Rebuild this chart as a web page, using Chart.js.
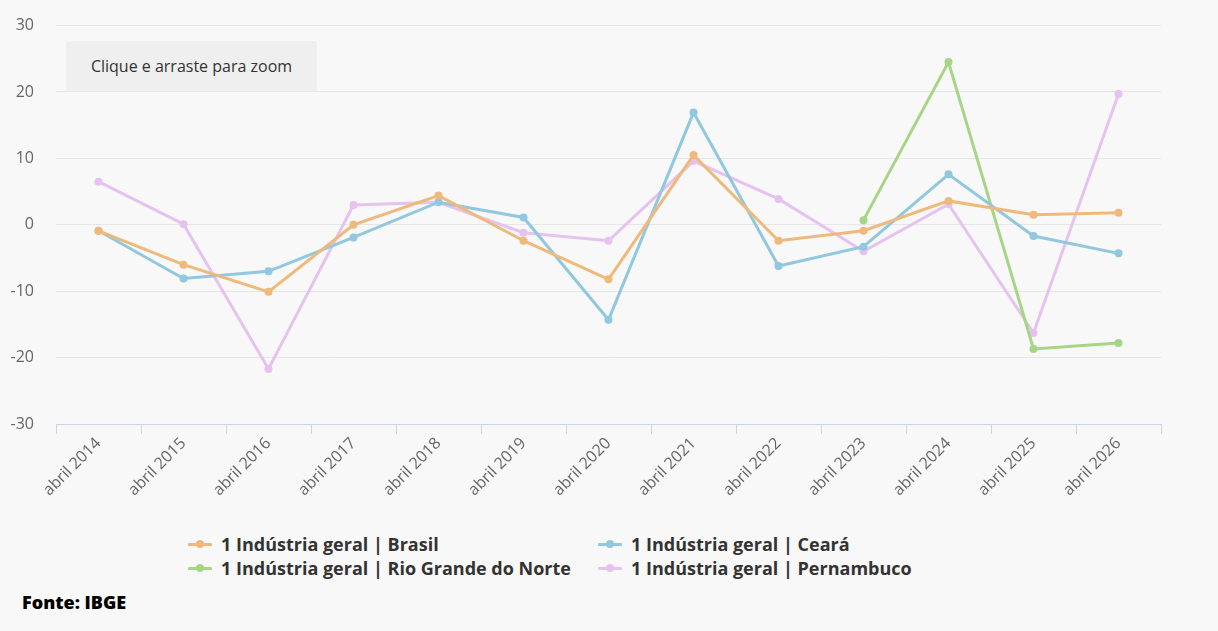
<!DOCTYPE html>
<html>
<head>
<meta charset="utf-8">
<script src="https://cdn.jsdelivr.net/npm/chart.js@4"></script>
<style>
    body { margin: 0; background: #f8f8f8; font-family: "Open Sans", sans-serif; }
    #wrap { position: relative; width: 1218px; height: 631px; overflow: hidden; }
    #chart { position: absolute; left: 0; top: -6px; }
    #zoomBtn {
        position: absolute; left: 66px; top: 41px; width: 251px; height: 50px;
        background: #efefef; border-radius: 2px; color: #333; font-size: 16px;
        line-height: 50px; text-align: center;
    }
    #legend { position: absolute; left: 188px; top: 532px; }
    .item { position: absolute; white-space: nowrap; font-weight: bold; font-size: 18px; color: #333; line-height: 24px; }
    .mark { position: absolute; left: 0; top: 11px; width: 24px; height: 3px; border-radius: 1px; }
    .dot { position: absolute; left: 8px; top: -3px; width: 8px; height: 8px; border-radius: 50%; }
    .item span.txt { position: absolute; left: 33px; top: 0; }
    #source { position: absolute; left: 22px; top: 590px; font-size: 18px; font-weight: 800; color: #000; }
</style>
</head>
<body>
<div id="wrap">
    <canvas id="chart" width="1218" height="526"></canvas>
    <div id="zoomBtn">Clique e arraste para zoom</div>
    <div id="legend"></div>
    <div id="source">Fonte: IBGE</div>
</div>
<script>
const labels = ['abril 2014', 'abril 2015', 'abril 2016', 'abril 2017', 'abril 2018', 'abril 2019', 'abril 2020',
    'abril 2021', 'abril 2022', 'abril 2023', 'abril 2024', 'abril 2025', 'abril 2026'];

const brasil     = [-0.9, -6.0, -10.1, 0.0, 4.4, -2.4, -8.2, 10.5, -2.4, -0.9, 3.6, 1.5, 1.8];
const ceara      = [-0.9, -8.1, -7.0, -1.9, 3.4, 1.1, -14.3, 16.9, -6.2, -3.3, 7.6, -1.7, -4.3];
const rioGrande  = [null, null, null, null, null, null, null, null, null, 0.7, 24.5, -18.7, -17.8];
const pernambuco = [6.5, 0.1, -21.7, 3.0, 3.4, -1.2, -2.4, 9.6, 3.9, -4.0, 3.1, -16.3, 19.7];

const yTicks = [-30, -20, -10, 0, 10, 20, 30];

function serie(label, data, color) {
    return {
        label: label,
        data: data,
        borderColor: color,
        backgroundColor: color,
        borderWidth: 3,
        pointRadius: 4,
        pointBorderWidth: 0,
        pointBackgroundColor: color,
        tension: 0,
        spanGaps: false
    };
}

const ctx = document.getElementById('chart').getContext('2d');

const chart = new Chart(ctx, {
    type: 'line',
    data: {
        labels: labels,
        datasets: [
            serie('1 Indústria geral | Brasil', brasil, '#efb97c'),
            serie('1 Indústria geral | Ceará', ceara, '#91c8df'),
            serie('1 Indústria geral | Rio Grande do Norte', rioGrande, '#a6d685'),
            serie('1 Indústria geral | Pernambuco', pernambuco, '#e6c2ef')
        ]
    },
    options: {
        responsive: false,
        animation: false,
        layout: { padding: { top: 19, right: 57, left: 0, bottom: 0 } },
        plugins: {
            legend: { display: false },
            tooltip: { enabled: false }
        },
        scales: {
            y: {
                min: -30,
                max: 30,
                afterFit: s => { s.width = 56; },
                afterBuildTicks: s => { s.ticks = yTicks.map(v => ({ value: v })); },
                border: { display: false },
                grid: {
                    color: c => c.tick && c.tick.value === -30 ? 'rgba(0,0,0,0)' : '#e6e6e6',
                    drawTicks: false
                },
                ticks: {
                    padding: 22,
                    color: '#666',
                    font: { family: 'Open Sans', size: 16 }
                }
            },
            x: {
                offset: true,
                afterFit: s => { s.height = 96; },
                border: { display: true, color: '#ccd6eb', width: 1 },
                grid: {
                    offset: true,
                    drawOnChartArea: false,
                    drawTicks: true,
                    tickLength: 10,
                    color: '#ccd6eb'
                },
                ticks: {
                    minRotation: 45,
                    maxRotation: 45,
                    autoSkip: false,
                    padding: 0,
                    color: '#666',
                    font: { family: 'Open Sans', size: 16 }
                }
            }
        }
    }
});

// legend in two columns, built from the datasets
const legendBox = document.getElementById('legend');
const cols = [0, 410];
chart.data.datasets.forEach((ds, i) => {
    const item = document.createElement('div');
    item.className = 'item';
    item.style.left = cols[i % 2] + 'px';
    item.style.top = (Math.floor(i / 2) * 24) + 'px';
    item.innerHTML = '<div class="mark" style="background:' + ds.borderColor + '"><div class="dot" style="background:' +
        ds.borderColor + '"></div></div><span class="txt"></span>';
    item.querySelector('.txt').innerText = ds.label;
    legendBox.appendChild(item);
});
</script>
</body>
</html>
